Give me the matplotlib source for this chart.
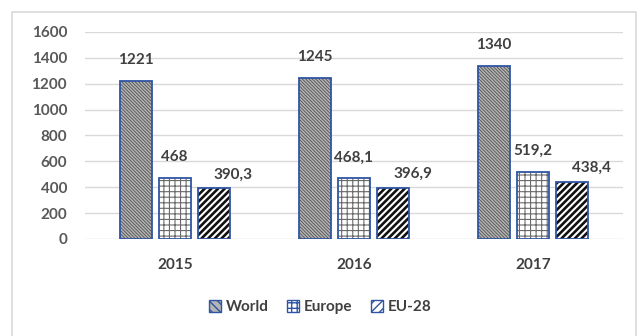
import numpy as np
import matplotlib.pyplot as plt
from matplotlib.patches import Rectangle, Patch

years = ['2015', '2016', '2017']
world = [1221, 1245, 1340]
europe = [468, 468.1, 519.2]
eu28 = [390.3, 396.9, 438.4]
series_names = ['World', 'Europe', 'EU-28']


def fmt(v):
    # comma as decimal separator, like the original
    s = ('%g' % v)
    return s.replace('.', ',')


plt.rcParams['font.family'] = ['Lato', 'DejaVu Sans']

fig = plt.figure(figsize=(6.4, 3.36), dpi=100)
ax = fig.add_axes([0.133, 0.289, 0.84, 0.616])

# light frame round the chart
fig.patches.append(Rectangle((0.019, -0.01), 0.975, 0.975, transform=fig.transFigure,
                             fill=False, edgecolor='#d9d9d9', linewidth=1.2))

x = np.arange(len(years))
width = 0.178
step = 0.218
edge = '#2f55a4'

styles = [
    dict(facecolor='#b4b4b4', hatch='\\' * 10, hcol='#505050', hlw=0.6),
    dict(facecolor='white', hatch='+++', hcol='#6a6a6a', hlw=0.8),
    dict(facecolor='white', hatch='/////', hcol='#111111', hlw=1.9),
]

for i, (vals, st) in enumerate(zip([world, europe, eu28], styles)):
    pos = x + (i - 1) * step
    with plt.rc_context({'hatch.linewidth': st['hlw']}):
        ax.bar(pos, vals, width, color=st['facecolor'], hatch=st['hatch'],
               edgecolor=st['hcol'], linewidth=0, zorder=2)
    ax.bar(pos, vals, width, fill=False, edgecolor=edge, linewidth=1.3, zorder=3)
    for p, v in zip(pos, vals):
        dx, dy = (14, 5) if i == 2 else (0, 10)
        ax.annotate(fmt(v), (p, v), xytext=(dx, dy), textcoords='offset points',
                    ha='center', va='bottom', fontsize=11, fontweight='bold',
                    color='#404040')

ax.set_xlim(-0.5, 2.5)
ax.set_ylim(0, 1600)
ax.set_yticks(range(0, 1601, 200))
ax.set_xticks(x)
ax.set_xticklabels(years, fontsize=11, fontweight='bold', color='#404040')
ax.tick_params(axis='y', labelsize=11, labelcolor='#595959', length=0, pad=13)
ax.tick_params(axis='x', length=0, pad=14)
for lab in ax.get_yticklabels():
    lab.set_fontweight('bold')
ax.grid(axis='y', color='#d9d9d9', linewidth=1)
ax.set_axisbelow(True)
for s in ax.spines.values():
    s.set_visible(False)

handles = [Patch(facecolor=st['facecolor'], hatch=st['hatch'][:4], edgecolor=edge)
           for st in styles]
fig.legend(handles, series_names, loc='center', bbox_to_anchor=(0.5, 0.086),
           ncol=3, frameon=False, handlelength=0.8, handleheight=0.8,
           handletextpad=0.3, columnspacing=1.2,
           prop={'size': 11, 'weight': 'bold'}, labelcolor='#404040')

fig.savefig('out.png', dpi=100, facecolor='white')
